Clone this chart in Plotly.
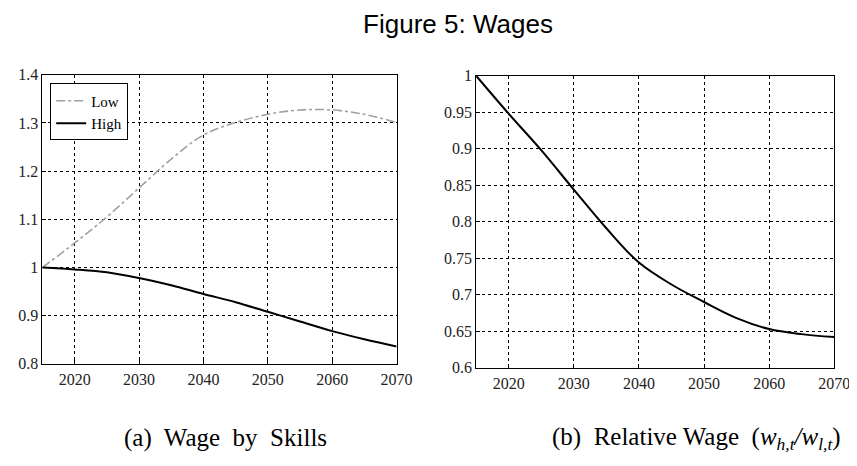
import plotly.graph_objects as go

years = [2015, 2020, 2025, 2030, 2035, 2040, 2045, 2050, 2055, 2060, 2065, 2070]
wage_low = [1.0, 1.051, 1.105, 1.165, 1.225, 1.275, 1.301, 1.318, 1.327, 1.327, 1.318, 1.301]
wage_high = [1.0, 0.996, 0.990, 0.978, 0.963, 0.945, 0.928, 0.908, 0.888, 0.868, 0.851, 0.836]
rel_wage = [1.0, 0.948, 0.898, 0.844, 0.791, 0.744, 0.714, 0.690, 0.668, 0.653, 0.646, 0.642]

x_ticks = [2020, 2030, 2040, 2050, 2060, 2070]
y1_ticks = [0.8, 0.9, 1.0, 1.1, 1.2, 1.3, 1.4]
y1_labels = ["0.8", "0.9", "1", "1.1", "1.2", "1.3", "1.4"]
y2_ticks = [0.6, 0.65, 0.7, 0.75, 0.8, 0.85, 0.9, 0.95, 1.0]
y2_labels = ["0.6", "0.65", "0.7", "0.75", "0.8", "0.85", "0.9", "0.95", "1"]

serif = "Liberation Serif, Times New Roman, serif"

fig = go.Figure()
fig.add_trace(go.Scatter(x=years, y=wage_low, mode="lines", name="Low",
                         line=dict(color="#a0a0a0", width=1.6, dash="dashdot", shape="spline"),
                         xaxis="x", yaxis="y"))
fig.add_trace(go.Scatter(x=years, y=wage_high, mode="lines", name="High",
                         line=dict(color="black", width=2, shape="spline"),
                         xaxis="x", yaxis="y"))
fig.add_trace(go.Scatter(x=years, y=rel_wage, mode="lines", name="Relative",
                         line=dict(color="black", width=2, shape="spline"),
                         xaxis="x2", yaxis="y2", showlegend=False))

axis_common = dict(showline=True, linecolor="black", linewidth=1, mirror=True,
                   showgrid=True, gridcolor="black", griddash="dot", gridwidth=1,
                   ticks="inside", ticklen=4, tickcolor="black",
                   tickfont=dict(family=serif, size=16, color="#222"),
                   zeroline=False)

fig.update_layout(
    width=857, height=466,
    margin=dict(l=0, r=0, t=0, b=0),
    font=dict(family=serif, color="#222"),
    paper_bgcolor="white", plot_bgcolor="white",
    title=dict(text="Figure 5: Wages", x=450/857, xanchor="center", y=1-16/466, yanchor="middle",
               font=dict(family="Liberation Sans, Arial, sans-serif", size=26, color="black")),
    xaxis=dict(domain=[0.041, 0.462], range=[2015, 2070], tickvals=x_ticks, anchor="y",
               ticklabelstandoff=1, **axis_common),
    yaxis=dict(domain=[0.2253, 0.869], range=[0.8, 1.4], tickvals=y1_ticks, ticktext=y1_labels,
               anchor="x", **axis_common),
    xaxis2=dict(domain=[0.5566, 0.9825], range=[2015, 2070], tickvals=x_ticks, anchor="y2",
                ticklabelstandoff=1, **axis_common),
    yaxis2=dict(domain=[0.2167, 0.867], range=[0.6, 1.0], tickvals=y2_ticks, ticktext=y2_labels,
                anchor="x2", **axis_common),
    legend=dict(x=43/857, y=1-70/466, xanchor="left", yanchor="top",
                bgcolor="white", bordercolor="black", borderwidth=1,
                font=dict(family=serif, size=15, color="black"),
                tracegroupgap=0, itemwidth=30),
    showlegend=True,
)

fig.add_annotation(text="(a)  Wage  by  Skills", xref="paper", yref="paper",
                   x=222/857, y=1-438/466, xanchor="center", yanchor="middle",
                   showarrow=False, font=dict(family=serif, size=25, color="black"))
fig.add_annotation(text="(b)  Relative Wage  (<i>w<sub>h,t</sub>/w<sub>l,t</sub></i>)", xref="paper", yref="paper",
                   x=702/857, y=1-438/466, xanchor="center", yanchor="middle",
                   showarrow=False, font=dict(family=serif, size=25, color="black"))

fig.write_html("out.html")
